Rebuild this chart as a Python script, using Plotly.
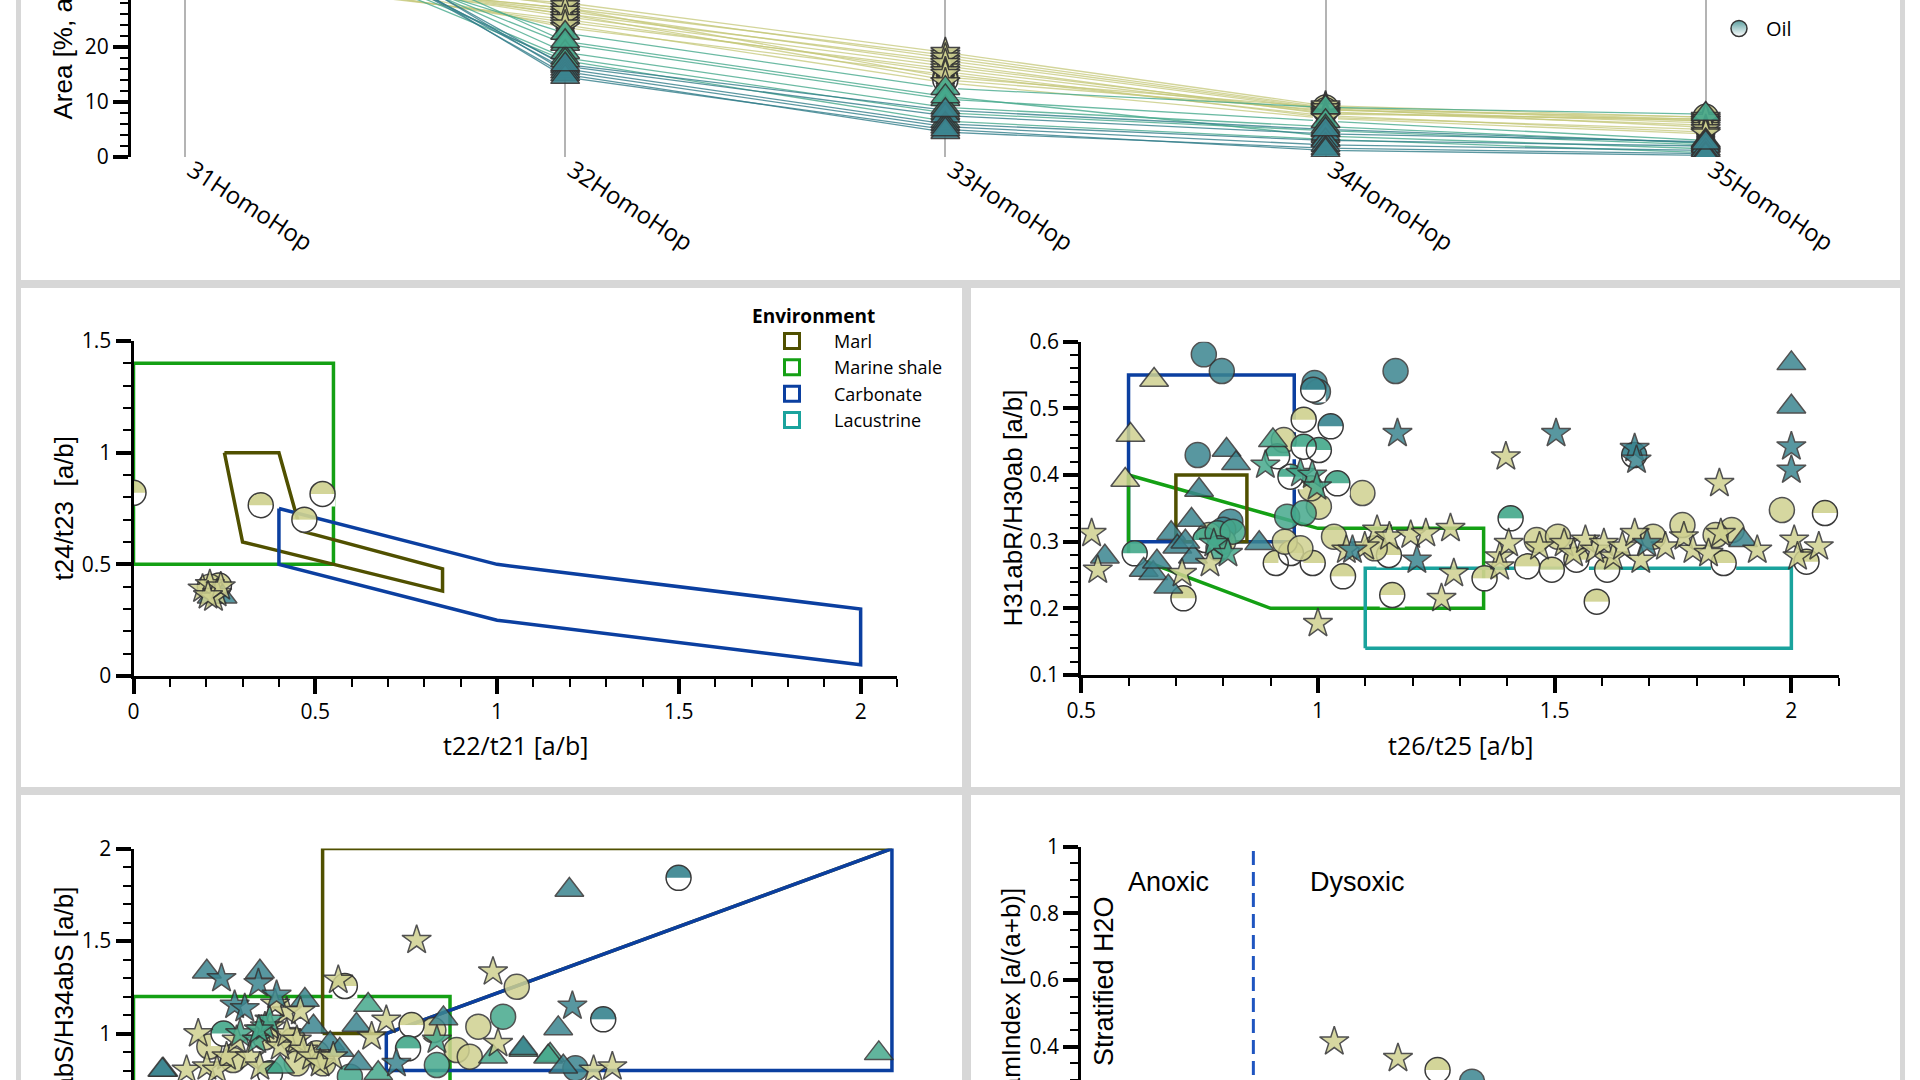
import plotly.graph_objects as go

# ======================= DATA =======================
homohop_categories = ["31HomoHop", "32HomoHop", "33HomoHop", "34HomoHop", "35HomoHop"]

homohop_khaki_star = [
    [34.0, 27.0, 18.5, 9.0, 6.5],
    [35.0, 26.0, 17.5, 8.6, 6.2],
    [33.0, 28.0, 19.0, 9.3, 7.2],
    [36.0, 25.5, 16.5, 8.2, 5.8],
    [34.0, 24.5, 16.0, 8.0, 6.6],
    [37.0, 27.5, 18.0, 8.8, 5.4],
    [35.0, 26.5, 17.0, 7.8, 6.9],
    [33.0, 25.0, 15.5, 7.2, 5.0],
    [38.0, 23.5, 15.0, 7.5, 4.5],
    [35.0, 24.0, 13.5, 7.0, 4.2],
]
homohop_khaki_oil = [
    [34.0, 27.0, 14.5, 9.0, 6.8],
    [36.0, 26.0, 14.0, 8.5, 7.3],
]
homohop_green_tri = [
    [44.0, 22.5, 12.5, 9.0, 7.8],
    [48.0, 20.5, 10.5, 6.5, 3.0],
    [50.0, 19.0, 9.0, 5.5, 2.5],
    [47.0, 18.0, 8.0, 4.8, 2.2],
    [52.0, 21.0, 11.0, 3.8, 1.5],
    [46.0, 17.5, 6.5, 3.2, 0.8],
]
homohop_teal_tri = [
    [55.0, 16.5, 7.5, 4.2, 2.8],
    [53.0, 16.0, 6.0, 3.0, 2.0],
    [57.0, 15.5, 5.5, 2.2, 1.2],
    [54.0, 15.0, 4.5, 1.6, 0.6],
    [56.0, 14.5, 5.0, 1.2, 0.3],
    [51.0, 16.8, 8.5, 5.0, 2.6],
]

# --- t22/t21 vs t24/t23 ---
ter_oil_kh_x = [0.00, 0.35, 0.47, 0.52, 0.235]
ter_oil_kh_y = [0.82, 0.765, 0.70, 0.815, 0.405]
ter_circ_kh_x = [0.21]
ter_circ_kh_y = [0.40]
ter_tri_dt_x = [0.215, 0.245]
ter_tri_dt_y = [0.355, 0.355]
ter_star_kh_x = [0.19, 0.21, 0.23, 0.22, 0.24, 0.205]
ter_star_kh_y = [0.39, 0.41, 0.37, 0.35, 0.40, 0.36]

ter_marl_x = [0.25, 0.40, 0.46, 0.85, 0.85, 0.30, 0.25]
ter_marl_y = [1.00, 1.00, 0.65, 0.48, 0.38, 0.60, 1.00]
ter_shale_x = [0.0, 0.0, 0.55, 0.55, 0.0]
ter_shale_y = [0.5, 1.4, 1.4, 0.5, 0.5]
ter_carb_x = [0.40, 1.0, 2.0, 2.0, 1.0, 0.40, 0.40]
ter_carb_y = [0.75, 0.50, 0.30, 0.05, 0.25, 0.50, 0.75]

# --- t26/t25 vs H31abR/H30ab ---
hop_circ_dt_x = [0.759, 0.797, 0.993, 1.0, 1.164, 0.746, 0.815, 0.80]
hop_circ_dt_y = [0.581, 0.556, 0.538, 0.525, 0.556, 0.430, 0.330, 0.318]
hop_circ_gr_x = [0.935, 0.97, 0.788, 0.82, 0.79]
hop_circ_gr_y = [0.3375, 0.343, 0.3125, 0.315, 0.29]
hop_circ_kh_x = [0.928, 1.094, 1.002, 0.985, 1.98, 1.77, 1.874, 1.462, 1.507, 1.708, 0.93, 0.963, 1.034, 1.84, 1.12, 0.80, 0.77]
hop_circ_kh_y = [0.4525, 0.373, 0.3525, 0.38, 0.3475, 0.325, 0.3175, 0.3025, 0.3075, 0.3075, 0.30, 0.29, 0.3075, 0.31, 0.29, 0.30, 0.31]
hop_oil_dt_x = [0.99, 1.027, 1.668]
hop_oil_dt_y = [0.528, 0.473, 0.43]
hop_oil_gr_x = [0.914, 0.97, 1.002, 0.942, 1.041, 1.407, 0.613, 0.762]
hop_oil_gr_y = [0.428, 0.4425, 0.4375, 0.3975, 0.3875, 0.335, 0.2825, 0.3025]
hop_oil_kh_x = [0.97, 0.911, 0.989, 1.053, 1.157, 1.589, 2.071, 2.032, 1.857, 1.611, 1.494, 1.442, 1.352, 0.716, 0.943, 1.546, 1.15]
hop_oil_kh_y = [0.483, 0.268, 0.268, 0.248, 0.22, 0.21, 0.343, 0.27, 0.268, 0.258, 0.258, 0.263, 0.245, 0.215, 0.283, 0.273, 0.28]
hop_tri_dt_x = [0.807, 0.827, 0.749, 0.733, 0.69, 0.55, 0.632, 0.652, 0.684, 0.703, 0.736, 0.876, 1.898, 2.0, 2.0, 0.72, 0.66]
hop_tri_dt_y = [0.4375, 0.4175, 0.3775, 0.3325, 0.3125, 0.2775, 0.2575, 0.2525, 0.2325, 0.2925, 0.2775, 0.2975, 0.302, 0.5675, 0.5025, 0.30, 0.27]
hop_tri_gr_x = [0.905]
hop_tri_gr_y = [0.452]
hop_tri_kh_x = [0.654, 0.604, 0.593]
hop_tri_kh_y = [0.5425, 0.46, 0.3925]
hop_star_dt_x = [1.168, 1.503, 1.669, 1.673, 2.0, 2.0, 1.209, 1.695, 1.073]
hop_star_dt_y = [0.4625, 0.4625, 0.44, 0.4225, 0.4425, 0.4075, 0.2725, 0.2975, 0.2875]
hop_star_gr_x = [0.889, 0.963, 0.988, 0.998, 0.78, 0.81]
hop_star_gr_y = [0.415, 0.4025, 0.40, 0.3825, 0.2975, 0.2825]
hop_star_kh_x = [0.522, 0.535, 0.713, 0.772, 1.0, 1.397, 1.848, 1.261, 1.287,
                 1.06, 1.099, 1.125, 1.151, 1.196, 1.228, 1.28, 1.384, 1.403, 1.468,
                 1.52, 1.54, 1.565, 1.585, 1.604, 1.624, 1.643, 1.669, 1.682, 1.734,
                 1.773, 1.792, 1.825, 1.851, 1.928, 2.006, 2.013, 2.058, 1.384]
hop_star_kh_y = [0.3125, 0.2575, 0.2525, 0.2675, 0.1775, 0.4275, 0.3875, 0.215, 0.2525,
                 0.2875, 0.2925, 0.3175, 0.3075, 0.31, 0.3125, 0.32, 0.2775, 0.2975, 0.2925,
                 0.2975, 0.2825, 0.3025, 0.2875, 0.2975, 0.2775, 0.2925, 0.3125, 0.2725, 0.2925,
                 0.3075, 0.2875, 0.2825, 0.3125, 0.2875, 0.3025, 0.2775, 0.2925, 0.2625]

hop_carb_x = [0.6, 0.6, 0.95, 0.95, 0.6]
hop_carb_y = [0.30, 0.55, 0.55, 0.30, 0.30]
hop_shale_x = [0.6, 1.0, 1.35, 1.35, 0.9, 0.6, 0.6]
hop_shale_y = [0.40, 0.32, 0.32, 0.20, 0.20, 0.28, 0.40]
hop_marl_x = [0.7, 0.7, 0.85, 0.85, 0.7]
hop_marl_y = [0.30, 0.40, 0.40, 0.30, 0.30]
hop_lac_x = [1.1, 1.1, 2.0, 2.0, 1.1]
hop_lac_y = [0.14, 0.26, 0.26, 0.14, 0.14]

# --- H35abS/H34abS ---
c35_tri_dt_x = [0.145, 0.25, 0.339, 0.356, 0.441, 0.613, 0.84, 0.862, 0.059, 0.389, 0.408, 0.445, 0.85, 0.771, 0.057]
c35_tri_dt_y = [1.334, 1.334, 1.181, 1.037, 1.046, 1.082, 1.028, 1.776, 0.803, 0.947, 0.911, 0.839, 0.821, 0.92, 0.803]
c35_tri_gr_x = [0.464, 0.771, 0.824, 0.711, 1.474, 0.484, 0.82, 0.29]
c35_tri_gr_y = [1.154, 0.911, 0.884, 0.875, 0.893, 0.785, 0.875, 0.82]
c35_star_dt_x = [0.174, 0.247, 0.283, 0.20, 0.22, 0.868, 0.52]
c35_star_dt_y = [1.298, 1.271, 1.208, 1.154, 1.136, 1.149, 0.839]
c35_star_gr_x = [0.211, 0.244, 0.26, 0.60, 0.269, 0.248]
c35_star_gr_y = [1.0, 0.965, 1.037, 0.965, 1.073, 1.02]
c35_star_kh_x = [0.303, 0.405, 0.5, 0.471, 0.56, 0.711, 0.721, 0.128, 0.105, 0.145, 0.184, 0.204, 0.23, 0.253,
                 0.27, 0.29, 0.303, 0.323, 0.336, 0.352, 0.369, 0.395, 0.165, 0.25, 0.91, 0.947, 0.28, 0.33]
c35_star_kh_y = [1.118, 1.289, 1.073, 0.983, 1.505, 1.334, 0.947, 1.0, 0.803, 0.821, 0.875, 0.965, 0.875, 1.019,
                 1.037, 0.929, 1.0, 0.965, 0.911, 0.875, 0.839, 0.875, 0.803, 0.821, 0.803, 0.821, 1.16, 1.12]
c35_circ_kh_x = [0.758, 0.682, 0.593, 0.639, 0.665, 0.316, 0.362, 0.375, 0.323, 0.197, 0.26, 0.15]
c35_circ_kh_y = [1.253, 1.037, 1.019, 0.911, 0.875, 0.965, 0.893, 0.839, 0.839, 0.857, 0.98, 0.93]
c35_circ_gr_x = [0.731, 0.428, 0.60]
c35_circ_gr_y = [1.091, 0.767, 0.83]
c35_circ_dt_x = [0.874]
c35_circ_dt_y = [0.812]
c35_oil_kh_x = [0.418, 0.55]
c35_oil_kh_y = [1.257, 1.046]
c35_oil_gr_x = [0.543, 0.178, 0.27]
c35_oil_gr_y = [0.92, 1.0, 0.785]
c35_oil_dt_x = [1.078, 0.929]
c35_oil_dt_y = [1.842, 1.077]

c35_shale_x = [0.0, 0.0, 0.626, 0.626, 0.0]
c35_shale_y = [0.6, 1.2, 1.2, 0.6, 0.6]
c35_marl_x = [0.374, 0.374, 1.5, 0.5, 0.374]
c35_marl_y = [1.0, 2.0, 2.0, 1.0, 1.0]
c35_carb_x = [0.5, 0.5, 1.5, 1.5, 0.5]
c35_carb_y = [0.8, 1.0, 2.0, 0.8, 0.8]

# --- Gammacerane index ---
gam_star_kh_x = [1.47, 1.84]
gam_star_kh_y = [0.415, 0.365]
gam_oil_kh_x = [2.07]
gam_oil_kh_y = [0.33]
gam_circ_dt_x = [2.27]
gam_circ_dt_y = [0.295]
gam_anoxic_boundary = 1.0

# ======================= STYLE =======================
W, H = 1920, 1080
def PX(x): return x / W
def PY(y): return 1 - y / H

KH = "#cfd190"
GR = "#46a98c"
DT = "#3b8590"
C_MARL = "#505000"
C_SHALE = "#14a014"
C_CARB = "#0b3fa0"
C_LAC = "#1aa39d"
BORDER = "#d7d7d7"
TICKFONT = "Open Sans"
TITLEFONT = "Liberation Sans, Arial"

SYMBOL = {"circ": "circle", "tri": "triangle-up", "star": "star"}
SIZE = {"circ": 25, "oil": 25, "tri": 25, "star": 22}
COLOR = {"kh": KH, "gr": GR, "dt": DT}

fig = go.Figure()

def _add(x, y, marker, xa, ya):
    fig.add_trace(go.Scatter(x=x, y=y, mode="markers", marker=marker, xaxis=xa, yaxis=ya,
                             showlegend=False, hoverinfo="skip"))

def markers(x, y, kind, col, xa, ya, opacity=0.85):
    if kind == "oil":
        r = SIZE["oil"] / 2.0
        # coloured disc
        _add(x, y, dict(symbol="circle", size=SIZE["oil"], color=COLOR[col], opacity=0.92,
                        line=dict(width=0)), xa, ya)
        # white lower half
        _add(x, y, dict(symbol="line-ew", size=2 * r / 1.4, color="white", angle=0,
                        standoff=r / 2, line=dict(width=r, color="white")), xa, ya)
        # outline
        _add(x, y, dict(symbol="circle-open", size=SIZE["oil"], color="#3a3a3a",
                        line=dict(width=1.5, color="#3a3a3a")), xa, ya)
        return
    m = dict(symbol=SYMBOL[kind], size=SIZE[kind], color=COLOR[col], opacity=opacity,
             line=dict(color="#333333", width=1.5))
    _add(x, y, m, xa, ya)

def region(x, y, color, xa, ya):
    fig.add_trace(go.Scatter(x=x, y=y, mode="lines", line=dict(color=color, width=3.5),
                             xaxis=xa, yaxis=ya, showlegend=False, hoverinfo="skip"))

# ---------- top: homohopane distribution ----------
line_groups = [
    (homohop_khaki_star, "rgba(196,199,120,0.75)", "star", "kh"),
    (homohop_khaki_oil, "rgba(196,199,120,0.75)", "oil", "kh"),
    (homohop_green_tri, "rgba(70,169,140,0.8)", "tri", "gr"),
    (homohop_teal_tri, "rgba(50,125,138,0.8)", "tri", "dt"),
]
for rows, lc, kind, col in line_groups:
    for vals in rows:
        fig.add_trace(go.Scatter(x=homohop_categories, y=vals, mode="lines",
                                 line=dict(color=lc, width=1.3), xaxis="x", yaxis="y",
                                 showlegend=False, hoverinfo="skip"))
for rows, lc, kind, col in [line_groups[1], line_groups[0], line_groups[2], line_groups[3]]:
    for vals in rows:
        markers(homohop_categories, vals, kind, col, "x", "y", opacity=0.9)

# ---------- middle-left ----------
region(ter_shale_x, ter_shale_y, C_SHALE, "x2", "y2")
region(ter_marl_x, ter_marl_y, C_MARL, "x2", "y2")
region(ter_carb_x, ter_carb_y, C_CARB, "x2", "y2")
markers(ter_oil_kh_x, ter_oil_kh_y, "oil", "kh", "x2", "y2")
markers(ter_circ_kh_x, ter_circ_kh_y, "circ", "kh", "x2", "y2")
markers(ter_tri_dt_x, ter_tri_dt_y, "tri", "dt", "x2", "y2")
markers(ter_star_kh_x, ter_star_kh_y, "star", "kh", "x2", "y2")

# ---------- middle-right ----------
region(hop_carb_x, hop_carb_y, C_CARB, "x3", "y3")
region(hop_shale_x, hop_shale_y, C_SHALE, "x3", "y3")
region(hop_marl_x, hop_marl_y, C_MARL, "x3", "y3")
region(hop_lac_x, hop_lac_y, C_LAC, "x3", "y3")
markers(hop_circ_dt_x, hop_circ_dt_y, "circ", "dt", "x3", "y3")
markers(hop_oil_kh_x, hop_oil_kh_y, "oil", "kh", "x3", "y3")
markers(hop_circ_kh_x, hop_circ_kh_y, "circ", "kh", "x3", "y3")
markers(hop_oil_dt_x, hop_oil_dt_y, "oil", "dt", "x3", "y3")
markers(hop_oil_gr_x, hop_oil_gr_y, "oil", "gr", "x3", "y3")
markers(hop_circ_gr_x, hop_circ_gr_y, "circ", "gr", "x3", "y3")
markers(hop_tri_kh_x, hop_tri_kh_y, "tri", "kh", "x3", "y3")
markers(hop_tri_gr_x, hop_tri_gr_y, "tri", "gr", "x3", "y3")
markers(hop_tri_dt_x, hop_tri_dt_y, "tri", "dt", "x3", "y3")
markers(hop_star_kh_x, hop_star_kh_y, "star", "kh", "x3", "y3")
markers(hop_star_gr_x, hop_star_gr_y, "star", "gr", "x3", "y3")
markers(hop_star_dt_x, hop_star_dt_y, "star", "dt", "x3", "y3")

# ---------- bottom-left ----------
region(c35_shale_x, c35_shale_y, C_SHALE, "x4", "y4")
region(c35_marl_x, c35_marl_y, C_MARL, "x4", "y4")
region(c35_carb_x, c35_carb_y, C_CARB, "x4", "y4")
markers(c35_circ_kh_x, c35_circ_kh_y, "circ", "kh", "x4", "y4")
markers(c35_circ_gr_x, c35_circ_gr_y, "circ", "gr", "x4", "y4")
markers(c35_circ_dt_x, c35_circ_dt_y, "circ", "dt", "x4", "y4")
markers(c35_oil_kh_x, c35_oil_kh_y, "oil", "kh", "x4", "y4")
markers(c35_oil_gr_x, c35_oil_gr_y, "oil", "gr", "x4", "y4")
markers(c35_oil_dt_x, c35_oil_dt_y, "oil", "dt", "x4", "y4")
markers(c35_tri_gr_x, c35_tri_gr_y, "tri", "gr", "x4", "y4")
markers(c35_tri_dt_x, c35_tri_dt_y, "tri", "dt", "x4", "y4")
markers(c35_star_kh_x, c35_star_kh_y, "star", "kh", "x4", "y4")
markers(c35_star_gr_x, c35_star_gr_y, "star", "gr", "x4", "y4")
markers(c35_star_dt_x, c35_star_dt_y, "star", "dt", "x4", "y4")

# ---------- bottom-right ----------
markers(gam_circ_dt_x, gam_circ_dt_y, "circ", "dt", "x5", "y5")
markers(gam_oil_kh_x, gam_oil_kh_y, "oil", "kh", "x5", "y5")
markers(gam_star_kh_x, gam_star_kh_y, "star", "kh", "x5", "y5")

# ---------- legends ----------
fig.add_trace(go.Scatter(x=[None], y=[None], mode="markers", name="Oil", legend="legend",
                         marker=dict(symbol="circle", size=16, color="#5b9fa0",
                                     gradient=dict(type="vertical", color="white"),
                                     line=dict(color="#333333", width=1.5)),
                         xaxis="x", yaxis="y"))

for name, col in [("Marl", C_MARL), ("Marine shale", C_SHALE), ("Carbonate", C_CARB), ("Lacustrine", C_LAC)]:
    fig.add_trace(go.Scatter(x=[None], y=[None], mode="markers", name=name, legend="legend2",
                             marker=dict(symbol="square-open", size=15, color=col, line=dict(width=3)),
                             xaxis="x2", yaxis="y2"))

# ======================= AXES =======================
def yax(top, bottom, rng, dtick, mdtick, anchor):
    return dict(domain=[PY(bottom), PY(top)], range=rng, anchor=anchor, showline=True,
                linecolor="black", linewidth=3, ticks="outside", ticklen=15, tickwidth=3.5,
                tickcolor="black", tick0=0, dtick=dtick,
                minor=dict(ticks="outside", ticklen=8, tickwidth=2, tickcolor="black", dtick=mdtick),
                showgrid=False, zeroline=False,
                tickfont=dict(family=TICKFONT, size=21, color="black"), fixedrange=True)

def xax(left, right, rng, dtick, mdtick, anchor, tick0=0, visible=True):
    d = dict(domain=[PX(left), PX(right)], range=rng, anchor=anchor, showline=True,
             linecolor="black", linewidth=3, ticks="outside", ticklen=15, tickwidth=3.5,
             tickcolor="black", tick0=tick0, dtick=dtick,
             minor=dict(ticks="outside", ticklen=8, tickwidth=2, tickcolor="black", dtick=mdtick),
             showgrid=False, zeroline=False,
             tickfont=dict(family=TICKFONT, size=21, color="black"), fixedrange=True)
    if not visible:
        d.update(showline=False, ticks="", showticklabels=False, minor=dict(ticks=""))
    return d

layout = dict(
    width=W, height=H, autosize=False,
    margin=dict(l=0, r=0, t=0, b=0, pad=0, autoexpand=False),
    paper_bgcolor="white", plot_bgcolor="rgba(0,0,0,0)",
    font=dict(family=TICKFONT, color="black"),
    xaxis=dict(domain=[PX(131), PX(1800)], type="category", range=[-0.142, 4.248],
               anchor="y", showline=False, ticks="", showgrid=True, gridcolor="#b4b4b4",
               gridwidth=1.5, tickangle=33, zeroline=False, ticklabelshift=7, ticklabelstandoff=-6,
               tickfont=dict(family=TICKFONT, size=24, color="black"), fixedrange=True),
    yaxis=yax(0, 157, [0, 28.5], 10, 2, "x"),
    xaxis2=xax(133.5, 897, [0, 2.1], 0.5, 0.1, "y2"),
    yaxis2=yax(341, 676, [0, 1.5], 0.5, 0.1, "x2"),
    xaxis3=xax(1081.2, 1838.7, [0.5, 2.1], 0.5, 0.1, "y3", tick0=0.5),
    yaxis3=yax(341.7, 675, [0.1, 0.6], 0.1, 0.02, "x3"),
    xaxis4=xax(133.5, 897, [0, 1.51], 0.5, 0.1, "y4", visible=False),
    yaxis4=yax(848.6, 1080, [0.749, 2.0], 0.5, 0.1, "x4"),
    xaxis5=xax(1081.2, 1838.7, [0, 4.4], 1, 0.5, "y5", visible=False),
    yaxis5=yax(846.7, 1080, [0.30, 1.0], 0.2, 0.05, "x5"),
    legend=dict(x=PX(1712), xanchor="left", y=PY(48), yanchor="bottom",
                bgcolor="white", borderwidth=0, itemwidth=44, entrywidth=150,
                font=dict(family=TICKFONT, size=20, color="black"), itemsizing="trace"),
    legend2=dict(x=PX(750), xanchor="left", y=PY(298), yanchor="top",
                 bgcolor="rgba(0,0,0,0)", borderwidth=0, tracegroupgap=0, itemwidth=74,
                 title=dict(text="Environment", font=dict(family=TICKFONT, size=19, weight="bold", color="black")),
                 font=dict(family=TICKFONT, size=18, color="black")),
    showlegend=True,
)
fig.update_layout(**layout)

# ======================= CARD BORDERS =======================
cards = [(18.5, -20, 1902.5, 282.5), (18.5, 285.5, 964.5, 789.5), (968.5, 285.5, 1902.5, 789.5),
         (18.5, 792.5, 964.5, 1120), (968.5, 792.5, 1902.5, 1120)]
for x0, y0, x1, y1 in cards:
    fig.add_shape(type="rect", xref="paper", yref="paper", x0=PX(x0), x1=PX(x1), y0=PY(y1), y1=PY(y0),
                  line=dict(color=BORDER, width=5), fillcolor="rgba(0,0,0,0)", layer="below")

# dashed anoxic/dysoxic boundary
fig.add_shape(type="line", xref="x5", yref="y5", x0=gam_anoxic_boundary, x1=gam_anoxic_boundary,
              y0=0, y1=1.0, line=dict(color="#1f55c0", width=3, dash="14px,7px"), layer="above")

# ======================= TEXT =======================
def ann(text, x, y, xanchor="center", yanchor="middle", angle=0, size=26, family=TITLEFONT):
    fig.add_annotation(text=text, x=PX(x), y=PY(y), xref="paper", yref="paper", showarrow=False,
                       xanchor=xanchor, yanchor=yanchor, textangle=angle,
                       font=dict(family=family, size=size, color="black"))

ann("Area [%, a/(a+b+c+d+e)]", 63, 122, yanchor="bottom", angle=-90)
ann("t24/t23\u00a0\u00a0[a/b]", 63, 508.5, angle=-90)
ann("H31abR/H30ab [a/b]", 1012, 508.5, angle=-90)
ann("H35abS/H34abS [a/b]", 63, 885, yanchor="top", angle=-90)
ann("GamIndex [a/(a+b)]", 1010, 885, yanchor="top", angle=-90)
ann("Stratified H2O", 1104, 981, angle=-90, size=27)
ann("t22/t21 [a/b]", 515, 745, size=25, family=TICKFONT)
ann("t26/t25 [a/b]", 1460, 745, size=25, family=TICKFONT)
ann("Anoxic", 1168, 882, size=27)
ann("Dysoxic", 1357, 882, size=27)

fig.write_html("out.html", include_plotlyjs=True, full_html=True,
               config={"displayModeBar": False},
               post_script="document.body.style.margin='0';document.body.style.overflow='hidden';")
